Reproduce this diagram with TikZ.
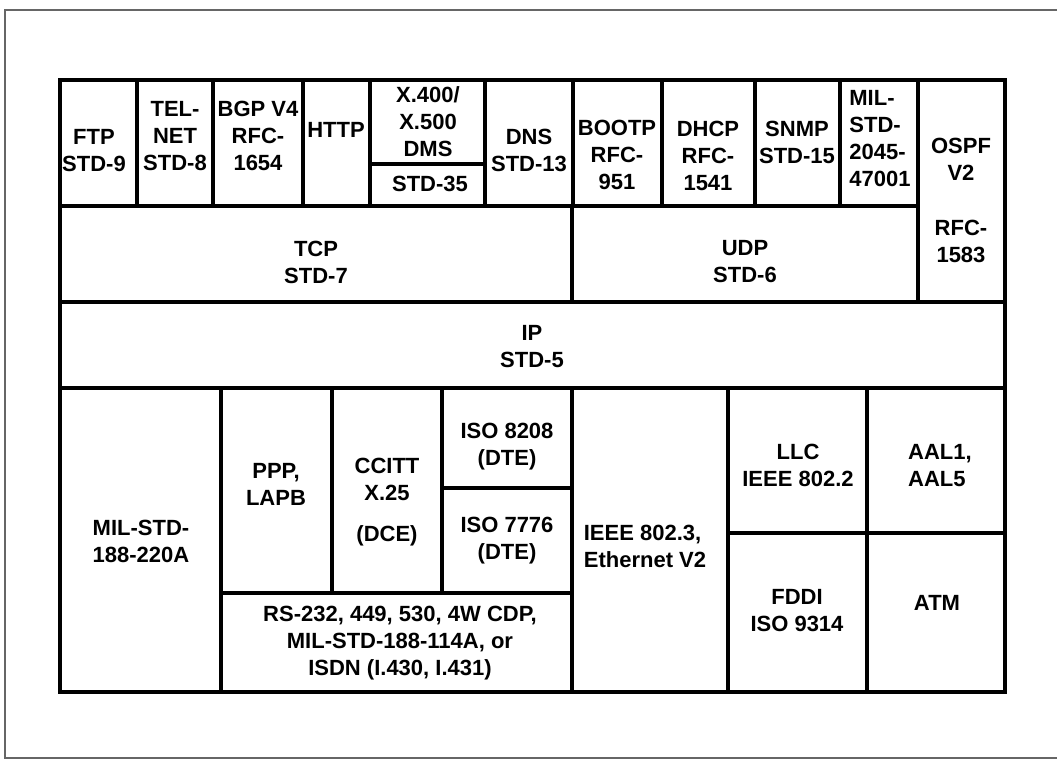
\documentclass[tikz,border=0pt]{standalone}
\usepackage{fontspec}
\setmainfont{Liberation Sans}
\usetikzlibrary{positioning}

\tikzset{
    cell/.style={draw, line width=1.9pt},
    lbl/.style={font=\bfseries\fontsize{11}{13.5}\selectfont, align=center, inner sep=0pt},
    frame/.style={draw=black!60, line width=0.6pt}
}

\begin{document}
\begin{tikzpicture}[x=0.5pt, y=-0.5pt]
    \useasboundingbox (0,0) rectangle (1057,762);
    \draw[frame] (1070,10) -- (5,10) -- (5,758) -- (1070,758);

    % application layer
    \draw[cell] (60,80) rectangle (137,206);
    \draw[cell] (137,80) rectangle (213,206);
    \draw[cell] (213,80) rectangle (303,206);
    \draw[cell] (303,80) rectangle (370,206);
    \draw[cell] (370,80) rectangle (485,164);
    \draw[cell] (370,164) rectangle (485,206);
    \draw[cell] (485,80) rectangle (573,206);
    \draw[cell] (573,80) rectangle (662,206);
    \draw[cell] (662,80) rectangle (755,206);
    \draw[cell] (755,80) rectangle (840,206);
    \draw[cell] (840,80) rectangle (918,206);
    \draw[cell] (918,80) rectangle (1005,302);

    \node[lbl] (ftp) at (94,151) {FTP\\STD-9};
    \node[lbl] (telnet) at (175,136) {TEL-\\NET\\STD-8};
    \node[lbl] (bgp) at (258,136) {BGP V4\\RFC-\\1654};
    \node[lbl] (http) at (336,130) {HTTP};
    \node[lbl] (x400) at (428,122) {X.400/\\X.500\\DMS};
    \node[lbl] (std35) at (430,184) {STD-35};
    \node[lbl] (dns) at (529,150) {DNS\\STD-13};
    \node[lbl] (bootp) at (617,155) {BOOTP\\RFC-\\951};
    \node[lbl] (dhcp) at (708,156) {DHCP\\RFC-\\1541};
    \node[lbl] (snmp) at (797,142) {SNMP\\STD-15};
    \node[lbl, align=left] (milstd) at (880,139) {MIL-\\STD-\\2045-\\47001};
    \node[lbl] (ospf) at (961,200) {OSPF\\V2\\[14pt]RFC-\\1583};

    % transport and network layer
    \draw[cell] (60,206) rectangle (572,302);
    \draw[cell] (572,206) rectangle (918,302);
    \draw[cell] (60,302) rectangle (1005,388);

    \node[lbl] (tcp) at (316,262) {TCP\\STD-7};
    \node[lbl] (udp) at (745,262) {UDP\\STD-6};
    \node[lbl] (ip) at (532,347) {IP\\STD-5};

    % link and physical layer
    \draw[cell] (60,388) rectangle (221,692);
    \draw[cell] (221,388) rectangle (332,593);
    \draw[cell] (332,388) rectangle (442,593);
    \draw[cell] (442,388) rectangle (572,488);
    \draw[cell] (442,488) rectangle (572,593);
    \draw[cell] (221,593) rectangle (572,692);
    \draw[cell] (572,388) rectangle (728,692);
    \draw[cell] (728,388) rectangle (867,533);
    \draw[cell] (867,388) rectangle (1005,533);
    \draw[cell] (728,533) rectangle (867,692);
    \draw[cell] (867,533) rectangle (1005,692);

    \node[lbl] (mil220) at (141,541) {MIL-STD-\\188-220A};
    \node[lbl] (ppp) at (276,484) {PPP,\\LAPB};
    \node[lbl] (ccitt) at (387,502) {CCITT\\X.25\\[7pt](DCE)};
    \node[lbl] (iso8208) at (507,447) {ISO 8208\\(DTE)};
    \node[lbl] (iso7776) at (507,541) {ISO 7776\\(DTE)};
    \node[lbl] (rs232) at (400,643) {RS-232, 449, 530, 4W CDP,\\MIL-STD-188-114A, or\\ISDN (I.430, I.431)};
    \node[lbl, align=left] (ieee8023) at (645,546) {IEEE 802.3,\\Ethernet V2};
    \node[lbl] (llc) at (798,465) {LLC\\IEEE 802.2};
    \node[lbl, align=left] (aal) at (940,466) {AAL1,\\AAL5};
    \node[lbl] (fddi) at (797,611) {FDDI\\ISO 9314};
    \node[lbl] (atm) at (937,603) {ATM};
\end{tikzpicture}
\end{document}
